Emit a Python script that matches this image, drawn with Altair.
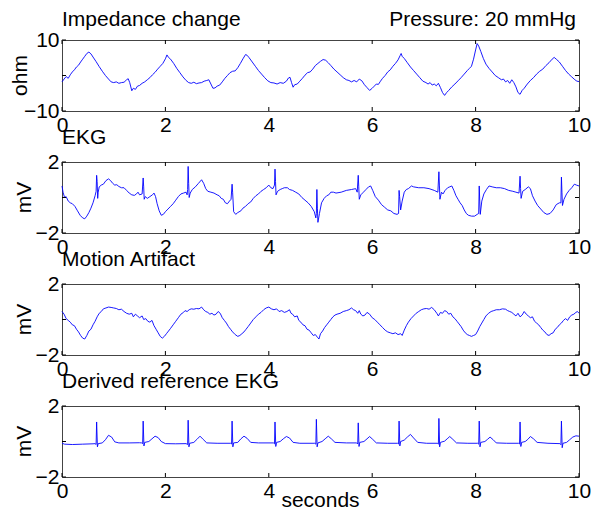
import altair as alt
import pandas as pd

FONT = "Liberation Sans"
BLUE = "#0000ff"

x_ticks = [0, 2, 4, 6, 8, 10]

imp_t = [0.00, 0.04, 0.08, 0.12, 0.16, 0.20, 0.24, 0.28, 0.32, 0.36, 0.40, 0.44, 0.48, 0.52, 0.56, 0.60, 0.66, 0.72, 0.78, 0.84,
         0.90, 0.95, 1.00, 1.05, 1.10, 1.15, 1.20, 1.25, 1.28, 1.31, 1.35, 1.38, 1.42, 1.46, 1.50, 1.55, 1.60, 1.65, 1.70, 1.75,
         1.80, 1.85, 1.90, 1.95, 2.00, 2.03, 2.06, 2.10, 2.16, 2.22, 2.28, 2.34, 2.40, 2.45, 2.50, 2.55, 2.60, 2.65, 2.70, 2.75,
         2.80, 2.84, 2.88, 2.92, 2.96, 3.00, 3.05, 3.10, 3.15, 3.20, 3.25, 3.30, 3.35, 3.40, 3.45, 3.50, 3.55, 3.58, 3.62, 3.68,
         3.74, 3.80, 3.86, 3.92, 3.98, 4.04, 4.10, 4.16, 4.22, 4.28, 4.34, 4.38, 4.41, 4.44, 4.47, 4.50, 4.55, 4.60, 4.65, 4.70,
         4.75, 4.80, 4.85, 4.90, 4.95, 5.00, 5.05, 5.10, 5.15, 5.20, 5.26, 5.32, 5.38, 5.44, 5.50, 5.55, 5.60, 5.65, 5.70, 5.75,
         5.80, 5.85, 5.90, 5.95, 6.00, 6.04, 6.08, 6.12, 6.16, 6.20, 6.25, 6.30, 6.35, 6.40, 6.45, 6.50, 6.54, 6.56, 6.58, 6.62,
         6.68, 6.74, 6.80, 6.86, 6.92, 6.98, 7.04, 7.08, 7.12, 7.16, 7.20, 7.24, 7.28, 7.32, 7.36, 7.40, 7.44, 7.48, 7.54, 7.60,
         7.66, 7.72, 7.78, 7.84, 7.88, 7.92, 7.96, 8.00, 8.03, 8.06, 8.10, 8.15, 8.20, 8.26, 8.32, 8.38, 8.44, 8.50, 8.54, 8.58,
         8.62, 8.66, 8.70, 8.74, 8.78, 8.82, 8.86, 8.90, 8.94, 9.00, 9.06, 9.12, 9.18, 9.24, 9.30, 9.36, 9.42, 9.48, 9.52, 9.56,
         9.62, 9.68, 9.74, 9.80, 9.86, 9.92, 9.96, 10.00]
imp_v = [-1.8, -1.0, -0.3, -0.8, 0.2, 1.0, 1.6, 2.4, 2.9, 3.8, 4.6, 5.4, 6.2, 6.6, 6.1, 5.2, 3.9, 2.5, 1.2, 0.0,
         -1.0, -1.8, -2.0, -1.8, -2.2, -2.0, -1.9, -1.2, -0.9, -2.0, -4.3, -3.6, -3.9, -3.0, -2.8, -2.2, -1.8, -1.2, -0.6, 0.2,
         0.9, 1.8, 2.6, 3.4, 4.7, 5.8, 5.1, 4.6, 3.4, 2.0, 0.8, -0.4, -1.4, -2.0, -2.2, -1.9, -2.3, -2.1, -2.0, -1.6,
         -1.4, -1.2, -2.4, -3.6, -3.5, -3.0, -2.7, -1.8, -0.8, 0.0, 0.8, 1.2, 1.3, 2.2, 3.4, 4.7, 5.9, 5.7, 5.0, 3.8,
         2.6, 1.4, 0.4, -0.6, -1.5, -2.0, -2.1, -2.4, -2.0, -2.2, -1.6, -0.7, -0.5, -2.0, -3.3, -2.6, -2.4, -1.6, -0.8, 0.1,
         0.8, 1.0, 1.8, 2.8, 3.4, 4.0, 4.5, 4.3, 3.6, 2.8, 1.8, 1.0, 0.2, -0.6, -1.2, -1.4, -1.8, -1.4, -1.8, -1.0,
         -1.5, -2.6, -3.4, -4.2, -3.6, -3.0, -2.4, -2.5, -1.6, -0.8, 0.0, 1.0, 1.6, 2.6, 3.4, 4.4, 5.6, 6.2, 5.4, 4.8,
         3.6, 2.4, 1.4, 0.4, -0.6, -1.6, -2.0, -2.4, -2.0, -2.7, -2.4, -2.9, -2.2, -3.4, -4.8, -5.6, -4.8, -4.2, -3.2, -2.4,
         -1.5, -0.6, 0.4, 1.4, 2.0, 2.6, 4.6, 7.2, 9.0, 8.3, 6.8, 4.8, 3.2, 2.0, 1.0, 0.0, -0.6, -1.2, -1.0, -1.8,
         -1.4, -2.2, -1.2, -2.0, -3.2, -4.8, -5.3, -4.2, -3.6, -2.4, -1.4, -0.6, 0.4, 1.2, 1.8, 2.8, 3.6, 4.6, 5.1, 4.6,
         3.8, 2.6, 1.4, 0.4, -0.4, -1.2, -1.6, -1.7]

ekg_t = [0.00, 0.02, 0.05, 0.08, 0.12, 0.16, 0.20, 0.25, 0.30, 0.35, 0.40, 0.44, 0.48, 0.52, 0.56, 0.60, 0.64, 0.66, 0.67, 0.68,
         0.69, 0.70, 0.72, 0.76, 0.80, 0.85, 0.90, 0.94, 0.98, 1.02, 1.06, 1.10, 1.15, 1.20, 1.25, 1.30, 1.35, 1.40, 1.44, 1.47,
         1.50, 1.55, 1.57, 1.58, 1.59, 1.61, 1.65, 1.70, 1.75, 1.78, 1.81, 1.84, 1.88, 1.92, 1.96, 2.00, 2.05, 2.10, 2.15, 2.20,
         2.25, 2.30, 2.35, 2.40, 2.42, 2.43, 2.44, 2.45, 2.46, 2.48, 2.52, 2.58, 2.64, 2.70, 2.74, 2.78, 2.82, 2.88, 2.94, 3.00,
         3.04, 3.08, 3.12, 3.16, 3.20, 3.24, 3.27, 3.29, 3.30, 3.32, 3.36, 3.40, 3.46, 3.50, 3.55, 3.60, 3.65, 3.70, 3.75, 3.80,
         3.85, 3.90, 3.95, 4.00, 4.04, 4.08, 4.11, 4.12, 4.13, 4.14, 4.17, 4.22, 4.26, 4.30, 4.36, 4.40, 4.46, 4.52, 4.58, 4.64,
         4.70, 4.76, 4.82, 4.88, 4.91, 4.92, 4.93, 4.94, 4.95, 4.98, 5.02, 5.07, 5.12, 5.16, 5.20, 5.25, 5.30, 5.40, 5.50, 5.60,
         5.68, 5.71, 5.73, 5.74, 5.75, 5.78, 5.83, 5.88, 5.93, 5.97, 6.01, 6.06, 6.12, 6.18, 6.24, 6.30, 6.36, 6.42, 6.48, 6.51,
         6.52, 6.53, 6.55, 6.58, 6.62, 6.66, 6.70, 6.76, 6.80, 6.90, 7.00, 7.10, 7.20, 7.27, 7.29, 7.30, 7.31, 7.34, 7.37, 7.41,
         7.46, 7.50, 7.54, 7.58, 7.62, 7.66, 7.70, 7.74, 7.78, 7.82, 7.86, 7.92, 7.98, 8.03, 8.06, 8.07, 8.08, 8.09, 8.12, 8.16,
         8.21, 8.26, 8.32, 8.40, 8.48, 8.56, 8.64, 8.72, 8.78, 8.84, 8.86, 8.87, 8.88, 8.91, 8.96, 9.02, 9.06, 9.10, 9.15, 9.20,
         9.26, 9.32, 9.38, 9.44, 9.50, 9.56, 9.62, 9.65, 9.66, 9.67, 9.68, 9.71, 9.76, 9.81, 9.86, 9.91, 9.95, 10.00]
ekg_v = [0.65, 0.3, 0.0, 0.05, -0.2, -0.3, -0.35, -0.5, -0.75, -1.0, -1.15, -1.2, -1.05, -0.85, -0.6, -0.3, 0.1, 0.35, 1.25, 0.9,
         -0.05, 0.3, 0.6, 0.7, 0.75, 0.95, 1.05, 0.95, 0.8, 0.7, 0.72, 0.62, 0.55, 0.55, 0.4, 0.25, 0.15, 0.12, 0.2, 0.3,
         0.15, 0.2, 1.1, 0.6, -0.1, 0.05, -0.05, 0.05, 0.15, 0.25, 0.05, -0.35, -0.75, -1.0, -0.95, -0.8, -0.65, -0.5, -0.35, -0.15,
         0.05, 0.2, 0.25, 0.3, 0.15, 0.45, 1.75, 0.8, 0.0, 0.25, 0.45, 0.6, 0.8, 1.0, 0.8, 0.5, 0.35, 0.3, 0.25, 0.15,
         0.1, -0.05, -0.1, -0.3, -0.35, -0.2, -0.1, 0.75, 0.3, -0.8, -0.95, -0.85, -0.75, -0.6, -0.5, -0.35, -0.25, -0.05, 0.1, 0.2,
         0.35, 0.45, 0.55, 0.7, 0.55, 0.5, 0.7, 1.6, 0.9, 0.15, 0.35, 0.45, 0.5, 0.55, 0.55, 0.45, 0.4, 0.3, 0.2, 0.0,
         -0.15, -0.3, -0.5, -0.8, -1.15, -0.9, 0.45, -0.6, -1.4, -0.9, -0.3, -0.05, 0.1, 0.15, 0.3, 0.3, 0.25, 0.3, 0.4, 0.45,
         0.5, 0.3, 1.25, 0.6, -0.1, 0.15, 0.3, 0.45, 0.6, 0.65, 0.4, 0.05, -0.15, -0.4, -0.55, -0.7, -0.75, -0.9, -0.95, -0.9,
         0.4, 0.05, -0.7, -0.2, 0.3, 0.45, 0.5, 0.65, 0.6, 0.55, 0.55, 0.5, 0.4, 0.3, 1.45, 0.7, -0.1, 0.3, 0.2, 0.4,
         0.55, 0.6, 0.65, 0.4, 0.1, -0.1, -0.3, -0.45, -0.7, -0.9, -1.0, -1.05, -1.05, -0.95, -0.9, 0.65, -0.2, -0.95, -0.2, 0.2,
         0.45, 0.65, 0.6, 0.55, 0.55, 0.5, 0.4, 0.35, 0.3, 0.25, 1.2, 0.5, -0.05, 0.35, 0.45, 0.6, 0.5, 0.1, -0.2, -0.45,
         -0.65, -0.85, -0.95, -0.9, -0.7, -0.4, -0.3, -0.3, 1.15, 0.3, -0.45, -0.1, 0.2, 0.4, 0.55, 0.75, 0.7, 0.65]

mot_t = [0.00, 0.04, 0.08, 0.12, 0.16, 0.20, 0.24, 0.28, 0.32, 0.36, 0.40, 0.44, 0.48, 0.52, 0.56, 0.60, 0.64, 0.68, 0.72, 0.76,
         0.80, 0.85, 0.90, 0.95, 1.00, 1.05, 1.10, 1.15, 1.20, 1.25, 1.30, 1.35, 1.38, 1.42, 1.46, 1.50, 1.55, 1.58, 1.62, 1.66,
         1.70, 1.74, 1.78, 1.82, 1.86, 1.90, 1.94, 1.98, 2.02, 2.06, 2.10, 2.15, 2.20, 2.25, 2.30, 2.35, 2.38, 2.42, 2.46, 2.50,
         2.55, 2.60, 2.65, 2.70, 2.74, 2.78, 2.82, 2.86, 2.90, 2.94, 2.98, 3.02, 3.06, 3.10, 3.14, 3.18, 3.22, 3.26, 3.30, 3.35,
         3.40, 3.44, 3.48, 3.52, 3.56, 3.60, 3.65, 3.70, 3.75, 3.80, 3.85, 3.90, 3.95, 4.00, 4.05, 4.10, 4.15, 4.20, 4.25, 4.30,
         4.35, 4.40, 4.43, 4.46, 4.50, 4.55, 4.58, 4.62, 4.66, 4.70, 4.74, 4.78, 4.82, 4.86, 4.90, 4.94, 4.97, 5.00, 5.04, 5.08,
         5.12, 5.16, 5.20, 5.24, 5.28, 5.32, 5.38, 5.44, 5.50, 5.55, 5.60, 5.64, 5.68, 5.72, 5.75, 5.78, 5.82, 5.86, 5.90, 5.95,
         6.00, 6.05, 6.10, 6.15, 6.20, 6.25, 6.30, 6.35, 6.40, 6.45, 6.50, 6.55, 6.58, 6.62, 6.66, 6.70, 6.75, 6.80, 6.85, 6.90,
         6.95, 7.00, 7.05, 7.10, 7.15, 7.20, 7.25, 7.28, 7.32, 7.36, 7.40, 7.44, 7.48, 7.52, 7.56, 7.60, 7.64, 7.68, 7.72, 7.76,
         7.80, 7.84, 7.88, 7.92, 7.96, 8.00, 8.04, 8.08, 8.12, 8.16, 8.20, 8.25, 8.30, 8.35, 8.40, 8.46, 8.52, 8.58, 8.62, 8.66,
         8.70, 8.74, 8.78, 8.82, 8.86, 8.90, 8.94, 8.98, 9.02, 9.06, 9.10, 9.14, 9.18, 9.22, 9.26, 9.30, 9.34, 9.38, 9.42, 9.46,
         9.50, 9.54, 9.58, 9.62, 9.66, 9.70, 9.74, 9.78, 9.82, 9.86, 9.90, 9.94, 9.97, 10.00]
mot_v = [0.45, 0.3, 0.05, -0.05, -0.15, -0.3, -0.35, -0.55, -0.7, -0.9, -1.05, -1.1, -0.9, -0.65, -0.55, -0.3, -0.1, 0.15, 0.35, 0.45,
         0.6, 0.65, 0.7, 0.68, 0.65, 0.62, 0.55, 0.58, 0.45, 0.35, 0.3, 0.35, 0.15, 0.3, 0.2, 0.1, 0.2, 0.0, 0.05, -0.1,
         -0.15, -0.05, -0.35, -0.55, -0.75, -0.95, -1.05, -0.95, -0.8, -0.65, -0.5, -0.3, -0.1, 0.1, 0.3, 0.4, 0.5, 0.45, 0.55, 0.6,
         0.58, 0.62, 0.6, 0.7, 0.55, 0.45, 0.4, 0.3, 0.35, 0.25, 0.3, 0.45, 0.35, 0.1, -0.05, -0.2, -0.4, -0.55, -0.7, -0.85,
         -0.95, -0.9, -0.8, -0.7, -0.55, -0.4, -0.2, 0.0, 0.15, 0.3, 0.4, 0.55, 0.65, 0.7, 0.6, 0.55, 0.6, 0.45, 0.5, 0.4,
         0.45, 0.55, 0.35, 0.3, 0.15, 0.2, -0.05, -0.15, -0.3, -0.35, -0.55, -0.6, -0.75, -0.9, -0.85, -1.0, -1.1, -0.8, -0.65, -0.45,
         -0.3, -0.15, 0.0, 0.15, 0.25, 0.3, 0.35, 0.45, 0.5, 0.55, 0.65, 0.55, 0.5, 0.35, 0.5, 0.3, 0.2, 0.25, 0.4, 0.3,
         0.1, 0.0, -0.15, -0.3, -0.45, -0.6, -0.7, -0.75, -0.8, -0.75, -0.85, -0.8, -0.9, -0.6, -0.35, -0.15, 0.05, 0.2, 0.35, 0.45,
         0.55, 0.6, 0.62, 0.58, 0.68, 0.55, 0.35, 0.2, 0.4, 0.35, 0.5, 0.45, 0.3, 0.35, 0.15, 0.05, -0.1, -0.25, -0.4, -0.6,
         -0.75, -0.85, -0.9, -0.95, -0.9, -0.85, -0.65, -0.4, -0.2, 0.0, 0.2, 0.35, 0.45, 0.5, 0.55, 0.55, 0.6, 0.58, 0.5, 0.45,
         0.4, 0.3, 0.2, 0.35, 0.15, 0.25, 0.45, 0.3, 0.2, 0.1, 0.15, -0.1, -0.2, -0.3, -0.45, -0.6, -0.7, -0.85, -0.9, -0.8,
         -0.75, -0.55, -0.45, -0.3, -0.2, -0.05, 0.05, -0.05, 0.15, 0.25, 0.3, 0.4, 0.45, 0.35]

ref_t = [0.00, 0.05, 0.20, 0.40, 0.60, 0.64, 0.66, 0.67, 0.685, 0.70, 0.78, 0.84, 0.90, 0.96, 1.02, 1.10, 1.30, 1.50, 1.54, 1.56,
         1.57, 1.585, 1.60, 1.68, 1.74, 1.80, 1.86, 1.92, 2.00, 2.20, 2.40, 2.43, 2.44, 2.455, 2.47, 2.55, 2.61, 2.67, 2.73, 2.80,
         3.00, 3.26, 3.28, 3.29, 3.305, 3.32, 3.40, 3.46, 3.52, 3.58, 3.65, 3.80, 4.09, 4.11, 4.12, 4.135, 4.15, 4.22, 4.28, 4.34,
         4.40, 4.47, 4.60, 4.89, 4.91, 4.92, 4.935, 4.95, 5.03, 5.09, 5.15, 5.21, 5.28, 5.50, 5.70, 5.72, 5.73, 5.745, 5.76, 5.84,
         5.90, 5.95, 6.01, 6.08, 6.30, 6.49, 6.51, 6.52, 6.535, 6.55, 6.62, 6.68, 6.74, 6.80, 6.88, 7.05, 7.26, 7.28, 7.29, 7.305,
         7.32, 7.40, 7.45, 7.50, 7.56, 7.63, 7.85, 8.04, 8.06, 8.07, 8.085, 8.10, 8.18, 8.23, 8.28, 8.34, 8.40, 8.60, 8.83, 8.85,
         8.86, 8.875, 8.89, 8.96, 9.01, 9.06, 9.12, 9.19, 9.40, 9.63, 9.65, 9.66, 9.675, 9.69, 9.76, 9.82, 9.88, 9.94, 10.00]
ref_v = [-0.1, -0.15, -0.17, -0.15, -0.13, -0.12, -0.17, 1.1, -0.3, -0.12, -0.08, 0.1, 0.35, 0.25, -0.02, -0.08, -0.08, -0.07, -0.08, -0.12,
         1.15, -0.25, -0.05, 0.0, 0.15, 0.3, 0.22, 0.0, -0.12, -0.13, -0.12, -0.17, 1.2, -0.3, -0.1, -0.05, 0.12, 0.3, 0.12, -0.08,
         -0.1, -0.1, -0.14, 1.15, -0.3, -0.08, -0.05, 0.15, 0.3, 0.18, -0.05, -0.08, -0.08, -0.13, 1.1, -0.28, -0.05, 0.0, 0.15, 0.28,
         0.2, -0.05, -0.1, -0.1, -0.15, 1.25, -0.3, -0.08, 0.0, 0.15, 0.3, 0.15, -0.05, -0.08, -0.08, -0.14, 1.05, -0.28, -0.05, 0.0,
         0.15, 0.28, 0.12, -0.08, -0.1, -0.1, -0.14, 1.15, -0.25, 0.0, 0.08, 0.25, 0.4, 0.2, -0.05, -0.1, -0.1, -0.15, 1.3, -0.3,
         -0.05, 0.02, 0.15, 0.28, 0.12, -0.08, -0.1, -0.1, -0.15, 1.15, -0.3, -0.05, 0.0, 0.12, 0.25, 0.1, -0.08, -0.1, -0.1, -0.14,
         1.1, -0.28, -0.05, 0.0, 0.12, 0.28, 0.15, -0.05, -0.1, -0.12, -0.18, 1.15, -0.35, -0.1, -0.05, 0.1, 0.25, 0.32, 0.3]

W = 517
H = 71


def txt(s, x, y, align="left", angle=0, baseline="alphabetic"):
    return alt.Chart(pd.DataFrame({"s": [s]})).mark_text(
        align=align, baseline=baseline, font=FONT, fontSize=21, color="black", angle=angle
    ).encode(x=alt.value(x), y=alt.value(y), text="s:N")


def panel(t, v, title, title_y, ytitle, ytitle_x, ydom, xtitle=None, note=None):
    df = pd.DataFrame({"t": t, "v": v})
    xscale = alt.Scale(domain=[0, 10], nice=False, zero=False)
    yscale = alt.Scale(domain=ydom, nice=False, zero=False)
    y_ticks = [ydom[0], 0, ydom[1]]
    line = alt.Chart(df).mark_line(color=BLUE, strokeWidth=0.9).encode(
        x=alt.X("t:Q", scale=xscale,
                axis=alt.Axis(values=x_ticks, title=None, labelFlush=False, labelOverlap=False)),
        y=alt.Y("v:Q", scale=yscale,
                axis=alt.Axis(values=y_ticks, title=None, labelFlush=False, labelOverlap=False)),
    )
    xt = pd.DataFrame({"t": x_ticks})
    yt = pd.DataFrame({"v": y_ticks})
    tb = alt.Chart(xt).mark_rule(color="black", strokeWidth=1).encode(
        x=alt.X("t:Q", scale=xscale), y=alt.value(H), y2=alt.value(H - 4))
    tt = alt.Chart(xt).mark_rule(color="black", strokeWidth=1).encode(
        x=alt.X("t:Q", scale=xscale), y=alt.value(0), y2=alt.value(4))
    tl = alt.Chart(yt).mark_rule(color="black", strokeWidth=1).encode(
        y=alt.Y("v:Q", scale=yscale), x=alt.value(0), x2=alt.value(4))
    tr = alt.Chart(yt).mark_rule(color="black", strokeWidth=1).encode(
        y=alt.Y("v:Q", scale=yscale), x=alt.value(W), x2=alt.value(W - 4))
    layers = [line, tb, tt, tl, tr,
              txt(title, 0, title_y),
              txt(ytitle, ytitle_x, H / 2, align="center", angle=270)]
    if note is not None:
        layers.append(txt(note, W - 3, title_y, align="right"))
    if xtitle is not None:
        layers.append(txt(xtitle, W / 2, H + 30, align="center"))
    return alt.layer(*layers).properties(width=W, height=H)


p1 = panel(imp_t, imp_v, "Impedance change", -14, "ohm", -35, [-10, 10], note="Pressure: 20 mmHg")
p2 = panel(ekg_t, ekg_v, "EKG", -18, "mV", -31, [-2, 2])
p3 = panel(mot_t, mot_v, "Motion Artifact", -18, "mV", -31, [-2, 2])
p4 = panel(ref_t, ref_v, "Derived reference EKG", -18, "mV", -31, [-2, 2], xtitle="seconds")

chart = alt.vconcat(p1, p2, p3, p4, spacing=51, bounds="flush").properties(
    padding={"left": 1, "top": 0, "right": 0, "bottom": 0}
).configure_view(
    stroke="#444", strokeWidth=1
).configure_axis(
    domain=False, ticks=False, grid=False,
    labelFont=FONT, labelFontSize=21, labelColor="black", labelPadding=3,
)

chart.save("out.html", embed_options={"renderer": "svg", "actions": False})
